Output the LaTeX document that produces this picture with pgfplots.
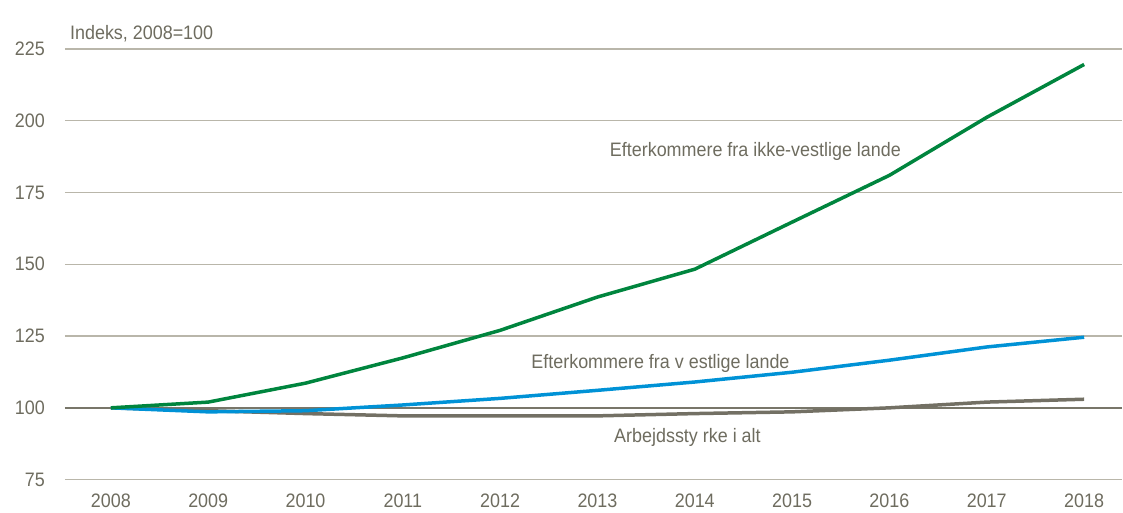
\documentclass[border=0pt]{standalone}
\usepackage{pgfplots}
\pgfplotsset{compat=1.18}
\usepackage{fontspec}
\setmainfont{Liberation Sans}[FakeStretch=0.92]
\definecolor{txt}{RGB}{110,108,95}
\definecolor{gridc}{RGB}{185,182,170}
\definecolor{zeroc}{RGB}{120,118,105}
\definecolor{greenl}{RGB}{0,133,62}
\definecolor{bluel}{RGB}{0,146,214}
\definecolor{grayl}{RGB}{115,112,100}
\begin{document}
\begin{tikzpicture}
\path (0,0) rectangle (1123bp,513bp);
\begin{axis}[
  at={(65bp,33bp)}, anchor=south west,
  scale only axis, width=1058bp, height=431bp,
  xmin=2007.528, xmax=2018.39, ymin=75, ymax=225,
  axis line style={draw=none},
  xtick={2008,...,2018}, ytick={75,100,...,225},
  xticklabel style={/pgf/number format/1000 sep={}},
  /pgf/number format/assume math mode=true,
  tick style={draw=none},
  ymajorgrids, grid style={gridc, line width=1.5bp},
  ticklabel style={font=\fontsize{19.5bp}{22bp}\selectfont, text=txt, inner sep=0pt},
  yticklabel style={xshift=-20bp},
  xticklabel style={anchor=base, yshift=-28bp},
  clip=false,
]
\draw[zeroc, line width=1.8bp] (axis cs:2007.528,100) -- (axis cs:2018.39,100);
\addplot[grayl, line width=3.5bp] coordinates {(2008,100) (2009,99) (2010,98) (2011,97.2) (2012,97.2) (2013,97.2) (2014,98) (2015,98.6) (2016,100) (2017,102) (2018,103)};
\addplot[bluel, line width=3.5bp] coordinates {(2008,100) (2009,98.6) (2010,99) (2011,101) (2012,103.3) (2013,106.1) (2014,109) (2015,112.4) (2016,116.6) (2017,121.2) (2018,124.6)};
\addplot[greenl, line width=3.5bp] coordinates {(2008,100) (2009,102) (2010,108.6) (2011,117.4) (2012,127) (2013,138.6) (2014,148.3) (2015,164.7) (2016,181) (2017,201.2) (2018,219.6)};
\end{axis}
\begin{scope}[every node/.style={font=\fontsize{19.5bp}{22bp}\selectfont, text=txt, inner sep=0pt}]
\node[anchor=base west] at (70bp,473bp) {Indeks, 2008=100};
\node[anchor=base] at (756bp,356bp) {Efterkommere fra ikke-vestlige lande};
\node[anchor=base] at (661bp,144bp) {Efterkommere fra v estlige lande};
\node[anchor=base] at (688bp,70bp) {Arbejdssty rke i alt};
\end{scope}
\end{tikzpicture}
\end{document}
